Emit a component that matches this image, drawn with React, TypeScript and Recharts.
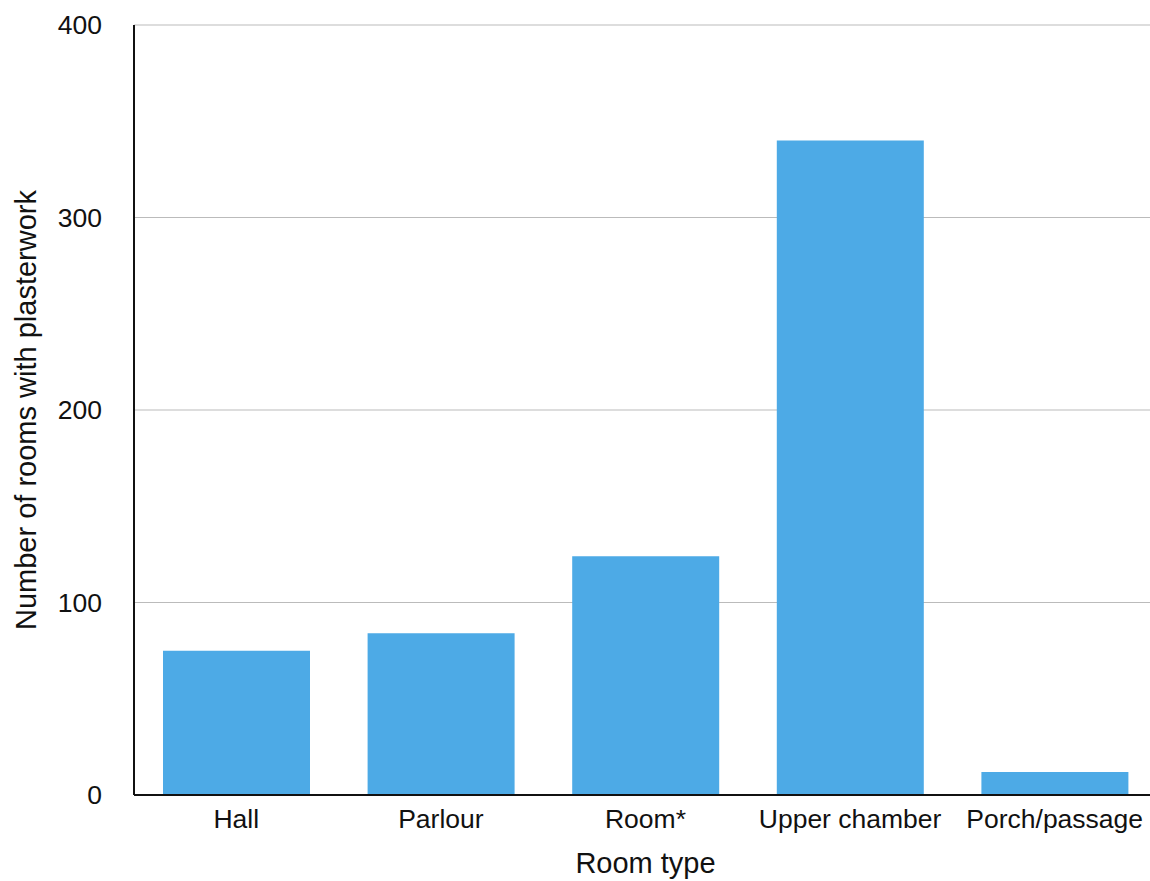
import React from 'react';
import { BarChart, Bar, XAxis, YAxis, CartesianGrid } from 'recharts';

const roomTypes = ['Hall', 'Parlour', 'Room*', 'Upper chamber', 'Porch/passage'];
const roomCounts = [75, 84, 124, 340, 12];
const yTicks = [0, 100, 200, 300, 400];

const data = roomTypes.map((room, i) => ({ room, count: roomCounts[i] }));

const font = '"Liberation Sans", Arial, sans-serif';

const App: React.FC = () => {
  return (
    <div style={{ position: 'absolute', left: 0, top: 0, width: 1150, height: 881, overflow: 'hidden', fontFamily: font }}>
      <BarChart
        width={1157}
        height={881}
        data={data}
        margin={{ top: 25, right: 0, bottom: 0, left: 0 }}
        barCategoryGap={29}
      >
        <CartesianGrid vertical={false} stroke="#bbbbbb" strokeWidth={1} />
        <XAxis
          dataKey="room"
          height={86}
          tickLine={false}
          tickSize={0}
          tickMargin={14}
          axisLine={{ stroke: '#111111', strokeWidth: 2 }}
          tick={{ fill: '#111111', fontSize: 26.5, fontFamily: font }}
          interval={0}
          label={{ value: 'Room type', position: 'insideBottom', offset: 8, fill: '#111111', fontSize: 29, fontFamily: font }}
        />
        <YAxis
          width={134}
          domain={[0, 400]}
          ticks={yTicks}
          tickLine={false}
          tickSize={0}
          tickMargin={32}
          axisLine={{ stroke: '#111111', strokeWidth: 2 }}
          tick={{ fill: '#111111', fontSize: 26.5, fontFamily: font }}
          label={{
            value: 'Number of rooms with plasterwork',
            angle: -90,
            position: 'insideLeft',
            offset: 26,
            style: { textAnchor: 'middle' },
            fill: '#111111',
            fontSize: 29,
            fontFamily: font,
          }}
        />
        <Bar dataKey="count" fill="#4daae6" isAnimationActive={false} />
      </BarChart>
    </div>
  );
};

export default App;
